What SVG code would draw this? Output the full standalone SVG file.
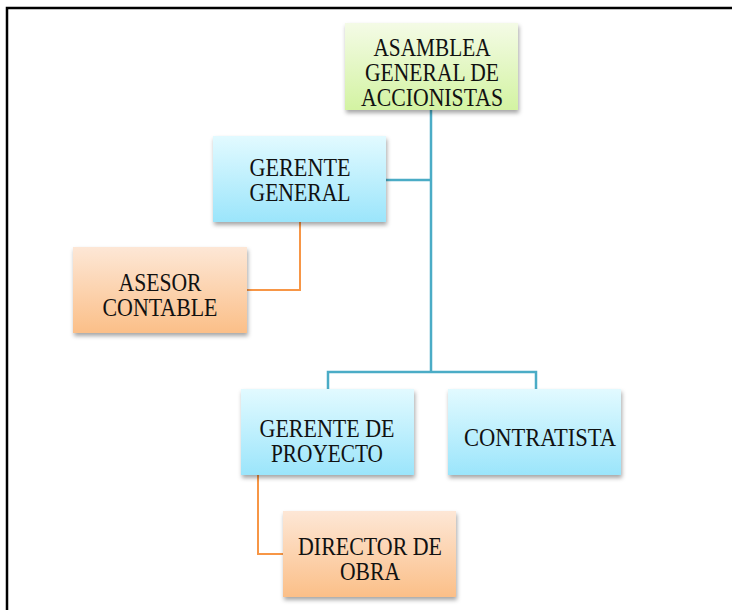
<svg xmlns="http://www.w3.org/2000/svg" width="732" height="610" viewBox="0 0 732 610">
<defs>
<linearGradient id="gGreen" x1="0" y1="0" x2="0" y2="1"><stop offset="0" stop-color="#f4fbe6"/><stop offset="1" stop-color="#d3f3a2"/></linearGradient>
<linearGradient id="gBlue" x1="0" y1="0" x2="0" y2="1"><stop offset="0" stop-color="#e2faff"/><stop offset="1" stop-color="#9be5fb"/></linearGradient>
<linearGradient id="gOrange" x1="0" y1="0" x2="0" y2="1"><stop offset="0" stop-color="#fde7d6"/><stop offset="1" stop-color="#fbbf88"/></linearGradient>
<filter id="sh" x="-10%" y="-10%" width="125%" height="130%"><feDropShadow dx="1" dy="3" stdDeviation="2" flood-color="#000" flood-opacity="0.35"/></filter>
</defs>
<style>
text{font-family:'Liberation Serif','DejaVu Serif',serif;font-size:25px;fill:#111;text-anchor:middle}
.b{fill:none;stroke:#4bacc6;stroke-width:2.5}
.o{fill:none;stroke:#f79646;stroke-width:2}
.frame{stroke:#000;stroke-width:2.5;fill:none}
</style>
<path class="frame" d="M7,610 V8 H732"/>
<g id="connectors">
<path class="b" d="M431,110 V372"/>
<path class="b" d="M386,180 H431"/>
<path class="b" d="M328,389 V372 H536 V389"/>
<path class="o" d="M300,222 V290 H247"/>
<path class="o" d="M258,475 V554 H283"/>
</g>
<g id="asamblea"><rect x="345" y="23" width="173" height="87" fill="url(#gGreen)" filter="url(#sh)"/>
<text x="432" y="56" textLength="117" lengthAdjust="spacingAndGlyphs">ASAMBLEA</text><text x="432" y="81" textLength="134" lengthAdjust="spacingAndGlyphs">GENERAL DE</text><text x="432" y="106" textLength="142" lengthAdjust="spacingAndGlyphs">ACCIONISTAS</text></g>
<g id="gerente-general"><rect x="213" y="136" width="173" height="86" fill="url(#gBlue)" filter="url(#sh)"/>
<text x="300" y="176" textLength="101" lengthAdjust="spacingAndGlyphs">GERENTE</text><text x="300" y="201" textLength="101" lengthAdjust="spacingAndGlyphs">GENERAL</text></g>
<g id="asesor"><rect x="73" y="247" width="174" height="86" fill="url(#gOrange)" filter="url(#sh)"/>
<text x="160" y="291" textLength="83" lengthAdjust="spacingAndGlyphs">ASESOR</text><text x="160" y="316" textLength="115" lengthAdjust="spacingAndGlyphs">CONTABLE</text></g>
<g id="gerente-proyecto"><rect x="241" y="389" width="173" height="86" fill="url(#gBlue)" filter="url(#sh)"/>
<text x="327" y="437" textLength="135" lengthAdjust="spacingAndGlyphs">GERENTE DE</text><text x="327" y="462" textLength="112" lengthAdjust="spacingAndGlyphs">PROYECTO</text></g>
<g id="contratista"><rect x="448" y="389" width="173" height="86" fill="url(#gBlue)" filter="url(#sh)"/>
<text x="540" y="446" textLength="152" lengthAdjust="spacingAndGlyphs">CONTRATISTA</text></g>
<g id="director"><rect x="283" y="511" width="173" height="86" fill="url(#gOrange)" filter="url(#sh)"/>
<text x="370" y="555" textLength="144" lengthAdjust="spacingAndGlyphs">DIRECTOR DE</text><text x="370" y="580" textLength="60" lengthAdjust="spacingAndGlyphs">OBRA</text></g>
</svg>
